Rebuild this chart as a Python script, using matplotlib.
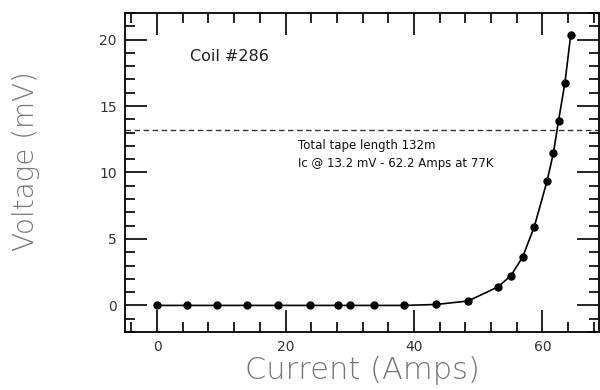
import numpy as np
import matplotlib.pyplot as plt
from matplotlib.ticker import MultipleLocator

# measured points (current in A, voltage in mV)
current = [0, 4.7, 9.3, 14.0, 18.9, 23.8, 28.2, 30.1, 33.8, 38.5,
           43.4, 48.4, 53.1, 55.1, 56.9, 58.7, 60.7, 61.7, 62.5, 63.5, 64.4]
voltage = [0, 0, 0, 0, 0, 0, 0, 0, 0, 0,
           0.07, 0.33, 1.4, 2.25, 3.63, 5.88, 9.33, 11.45, 13.9, 16.75, 20.35]
ic_voltage = 13.2

fig = plt.figure(figsize=(6, 3.9), dpi=100)
ax = fig.add_axes([0.2083, 0.1487, 0.79, 0.818])

ax.plot(current, voltage, color='black', lw=1.2, marker='o', ms=5, zorder=3)
ax.axhline(ic_voltage, color='#333333', lw=1.0, ls=(0, (4, 2.5)))

ax.text(5.1, 18.7, 'Coil #286', fontsize=11.5, color='#222222', va='center')
ax.text(21.9, 12.0, 'Total tape length 132m', fontsize=8.5, color='#111111', va='center')
ax.text(21.9, 10.7, 'Ic @ 13.2 mV - 62.2 Amps at 77K', fontsize=8.5, color='#111111', va='center')

ax.set_xlim(-5, 68.8)
ax.set_ylim(-2, 22)
ax.xaxis.set_major_locator(MultipleLocator(20))
ax.xaxis.set_minor_locator(MultipleLocator(4))
ax.yaxis.set_major_locator(MultipleLocator(5))
ax.yaxis.set_minor_locator(MultipleLocator(1))
ax.tick_params(which='both', direction='in', top=True, right=True, width=1.2,
               labelsize=10, labelcolor='#333333', pad=6)
ax.tick_params(which='major', length=16)
ax.tick_params(which='minor', length=7)
for s in ax.spines.values():
    s.set_linewidth(1.3)

ax.set_xlabel('Current (Amps)', fontsize=22, color='#777777', fontweight='light', labelpad=1)
ax.set_ylabel('Voltage (mV)', fontsize=20, color='#777777', fontweight='light')
ax.yaxis.set_label_coords(-0.18, 0.536)

plt.savefig('out.png', dpi=100)
